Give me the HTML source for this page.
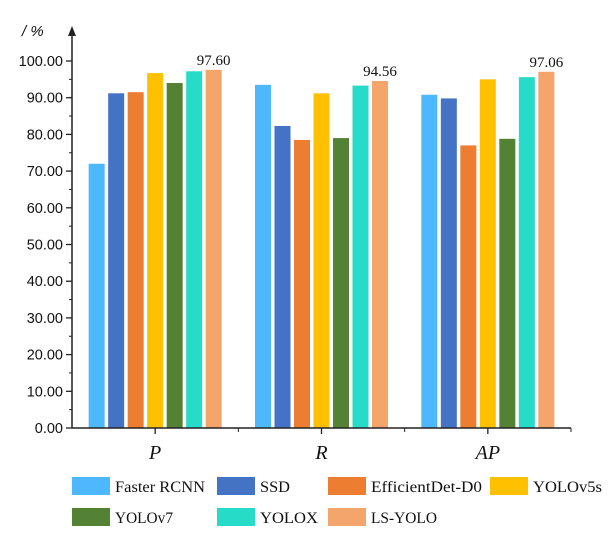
<!DOCTYPE html>
<html><head><meta charset="utf-8"><style>
body{margin:0;background:#fff;width:611px;height:550px;overflow:hidden}
svg{display:block}
</style></head><body>
<svg id="chart" width="611" height="550"></svg>
<script>
const categories = ["P","R","AP"];
const seriesNames = ["Faster RCNN","SSD","EfficientDet-D0","YOLOv5s","YOLOv7","YOLOX","LS-YOLO"];
const valuesP = [72.0, 91.2, 91.5, 96.7, 94.0, 97.2, 97.60];
const valuesR = [93.5, 82.3, 78.5, 91.2, 79.0, 93.3, 94.56];
const valuesAP = [90.8, 89.8, 77.0, 95.0, 78.8, 95.6, 97.06];
const yTicks = [0,10,20,30,40,50,60,70,80,90,100];
const annotations = ["97.60","94.56","97.06"];
const colors = ["#4db8fd","#4472c4","#ed7d31","#ffc000","#548235","#26dbc8","#f3a56c"];
const allValues = [valuesP, valuesR, valuesAP];

const NS="http://www.w3.org/2000/svg";
const svg=document.getElementById('chart');
function mk(tag,attrs,txt){const e=document.createElementNS(NS,tag);for(const k in attrs)e.setAttribute(k,attrs[k]);if(txt!==undefined)e.textContent=txt;svg.appendChild(e);return e;}
const x0=72,x1=571,yBase=428,yTop=61;
const y=v=>yBase-(v/100)*(yBase-yTop);
const gw=(x1-x0)/categories.length;
const barW=16,pitch=19.5;
const gx=i=>x0+gw*i+gw/2;

allValues.forEach((vals,gi)=>{
  const start=gx(gi)-(pitch*(vals.length-1)+barW)/2;
  vals.forEach((v,si)=>{
    const r=mk('rect',{x:start+si*pitch,y:y(v),width:barW,height:yBase-y(v),fill:colors[si]});
    
    
  });
  const lastV=vals[vals.length-1];
  const t=mk('text',{x:start+(vals.length-1)*pitch+barW/2,y:y(lastV)-5,'text-anchor':'middle','font-family':'Liberation Serif, serif','font-size':15,fill:'#111'},annotations[gi]);
  
  
});

let a=mk('line',{x1:x0,y1:yBase,x2:x0,y2:32,stroke:'#222','stroke-width':1.5});

let ar=mk('path',{d:`M${x0-4},36 L${x0},26 L${x0+4},36 Z`,fill:'#222'});

yTicks.forEach(v=>{
  mk('line',{x1:x0-6,y1:y(v),x2:x0,y2:y(v),stroke:'#222','stroke-width':1.3});
  if(v<100) mk('line',{x1:x0-3,y1:y(v+5),x2:x0,y2:y(v+5),stroke:'#222','stroke-width':1});
  const t=mk('text',{x:x0-9,y:y(v)+5,'text-anchor':'end','font-family':'Liberation Sans, sans-serif','font-size':14.5,fill:'#111'},v.toFixed(2));
  
  
});
let yl=mk('text',{x:22,y:36,'font-family':'Liberation Sans, sans-serif','font-size':15,'font-style':'italic',fill:'#111'},'/ %');


let xa=mk('line',{x1:x0,y1:yBase,x2:x1,y2:yBase,stroke:'#222','stroke-width':1.5});

categories.forEach((c,i)=>{
  mk('line',{x1:gx(i),y1:yBase,x2:gx(i),y2:yBase+6,stroke:'#222','stroke-width':1.3});
  mk('line',{x1:x0+gw*(i+1),y1:yBase,x2:x0+gw*(i+1),y2:yBase+4,stroke:'#222','stroke-width':1});
  const t=mk('text',{x:gx(i),y:459,'text-anchor':'middle','font-family':'Liberation Serif, serif','font-size':20,'font-style':'italic',fill:'#111'},c);
  
  
});

const legPos=[[72,477],[217,477],[328,477],[490,477],[72,508],[217,508],[328,508]];
const legTextW=[90,30,111,69,58,58,66];
seriesNames.forEach((n,i)=>{
  const [lx,ly]=legPos[i];
  const r=mk('rect',{x:lx,y:ly,width:38,height:18,fill:colors[i]});
  
  
  const t=mk('text',{x:lx+43,y:ly+15,'font-family':'Liberation Serif, serif','font-size':16,fill:'#111',textLength:legTextW[i],lengthAdjust:'spacingAndGlyphs'},n);
  
  
});
</script>
</body></html>
